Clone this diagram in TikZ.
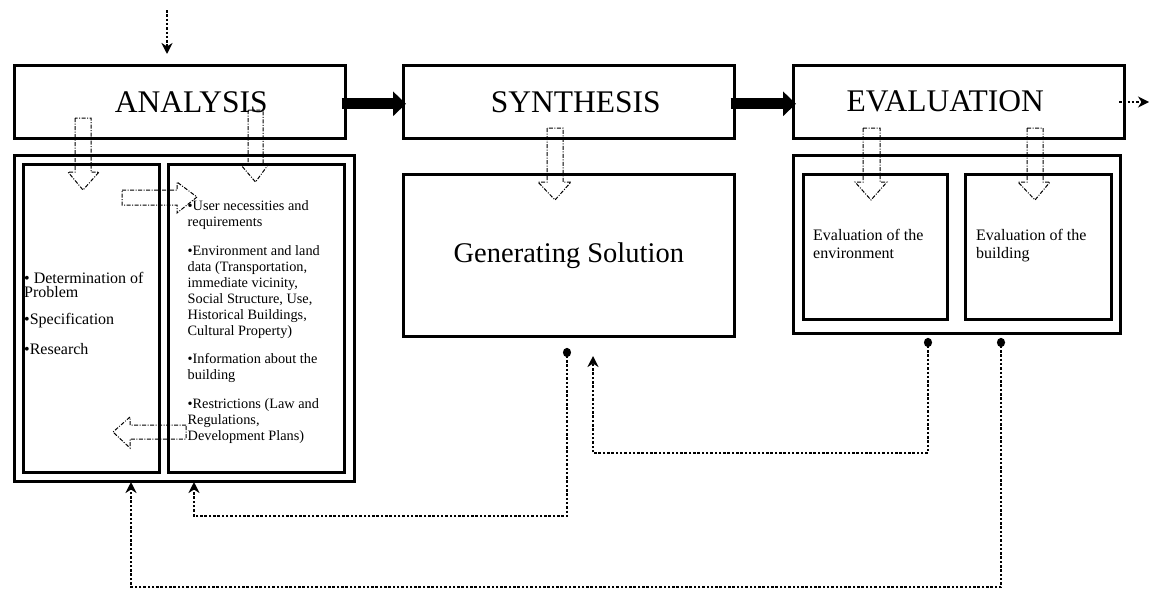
\documentclass[tikz,border=0pt]{standalone}
\usepackage{fontspec}
\setmainfont{Liberation Serif}
\usetikzlibrary{arrows.meta}
\begin{document}
\begin{tikzpicture}[x=1pt,y=-1pt,
  box/.style={draw, line width=2.6pt, rectangle, inner sep=0pt, anchor=north west},
  titlebox/.style={box, font=\fontsize{31.5}{36}\selectfont},
  txt/.style={anchor=base west, inner sep=0pt},
  bigarrow/.style={line width=11pt, -{Triangle[length=13pt,width=24pt]}},
  fb/.style={line width=2.5pt, dash pattern=on 2.5pt off 1.8pt},
  dotstart/.style={{Circle[length=9pt,width=8pt]}-{Stealth[length=11pt,width=11pt,inset=3.5pt]}},
  plainend/.style={-{Stealth[length=11pt,width=11pt,inset=3.5pt]}},
  hollow/.style={line width=1pt, dash pattern=on 4pt off 1.5pt on 1pt off 1.5pt}
]
\useasboundingbox (0,0) rectangle (1150,589);

% top row
\node[titlebox, minimum width=331pt, minimum height=73pt] (analysis) at (13,64) {\hspace*{23pt}ANALYSIS};
\node[titlebox, minimum width=331pt, minimum height=73pt] (synthesis) at (402,64) {\hspace*{14pt}SYNTHESIS};
\node[titlebox, minimum width=331pt, minimum height=73pt] (evaluation) at (792,64) {EVALUATION\hspace*{27pt}};

% lower boxes
\node[box, minimum width=340pt, minimum height=326pt] (anacont) at (13,154) {};
\node[box, minimum width=136pt, minimum height=308pt] (anaL) at (22,163) {};
\node[box, minimum width=176pt, minimum height=308pt] (anaR) at (167,163) {};
\node[box, minimum width=331pt, minimum height=162pt, font=\fontsize{28.5}{32}\selectfont] (synbox) at (402,173) {Generating Solution};
\node[box, minimum width=327pt, minimum height=178pt] (evalcont) at (792,154) {};
\node[box, minimum width=144pt, minimum height=145pt] (evalL) at (802,173) {};
\node[box, minimum width=146pt, minimum height=145pt] (evalR) at (964,173) {};

% texts
\node[txt, font=\fontsize{16}{14}\selectfont] (anaLtext) at (24,283)
  {\parbox[t]{130pt}{\raggedright • Determination of\\Problem\\[13.5pt]•Specification\\[14pt]•Research}};
\node[txt, font=\fontsize{14.3}{16}\selectfont] (anaRtext) at (187.5,210.5)
  {\parbox[t]{160pt}{\raggedright •User necessities and\\requirements\\[12.5pt]•Environment and land\\data (Transportation,\\immediate vicinity,\\Social Structure, Use,\\Historical Buildings,\\Cultural Property)\\[12.5pt]•Information about the\\building\\[12.5pt]•Restrictions (Law and\\Regulations,\\Development Plans)}};
\node[txt, font=\fontsize{16}{18}\selectfont] (evalLtext) at (813,240.5)
  {\parbox[t]{130pt}{\raggedright Evaluation of the\\environment}};
\node[txt, font=\fontsize{16}{18}\selectfont] (evalRtext) at (976,240.5)
  {\parbox[t]{130pt}{\raggedright Evaluation of the\\building}};

% thick arrows
\draw[bigarrow] ([shift={(-5,2)}]analysis.east) -- ([shift={(4,2)}]synthesis.west);
\draw[bigarrow] ([shift={(-5,2)}]synthesis.east) -- ([shift={(4,2)}]evaluation.west);

% dotted arrows
\coordinate (topstart) at (167,10);
\coordinate (toptip) at (167,54);
\draw[fb, plainend] (topstart) -- (toptip);
\coordinate (outstart) at (1119,102);
\coordinate (outtip) at (1149,102);
\draw[fb, plainend] (outstart) -- (outtip);

\coordinate (d1) at (567,348);
\coordinate (t1) at (194,482);
\draw[fb, dotstart] (d1) -- ++(0,168) -| (t1);
\coordinate (d2) at (928,338);
\coordinate (t2) at (593,356);
\draw[fb, dotstart] (d2) -- ++(0,115) -| (t2);
\coordinate (d3) at (1001,338);
\coordinate (t3) at (131,482);
\draw[fb, dotstart] (d3) -- ++(0,249) -| (t3);

% hollow dash-dot block arrows
\draw[hollow] (75,118) -- (75,172) -- (68,172) -- (83,190) -- (99,172) -- (91,172) -- (91,118) -- cycle;
\draw[hollow] (248,110) -- (248,165) -- (241,165) -- (255.5,182) -- (268,165) -- (263,165) -- (263,110) -- cycle;
\draw[hollow] (547,128) -- (547,182) -- (538,182) -- (555,200) -- (571,182) -- (563,182) -- (563,128) -- cycle;
\draw[hollow] (863,128) -- (863,182) -- (855,182) -- (871,200) -- (887,182) -- (880,182) -- (880,128) -- cycle;
\draw[hollow] (1027,128) -- (1027,182) -- (1018,182) -- (1035,200) -- (1050,182) -- (1043,182) -- (1043,128) -- cycle;
\draw[hollow] (122,190) -- (177,190) -- (177,182) -- (197,197) -- (177,213) -- (177,205) -- (122,205) -- cycle;
\draw[hollow] (186,425) -- (130,425) -- (130,417) -- (113,432) -- (130,448) -- (130,439) -- (186,439) -- cycle;
\end{tikzpicture}
\end{document}
